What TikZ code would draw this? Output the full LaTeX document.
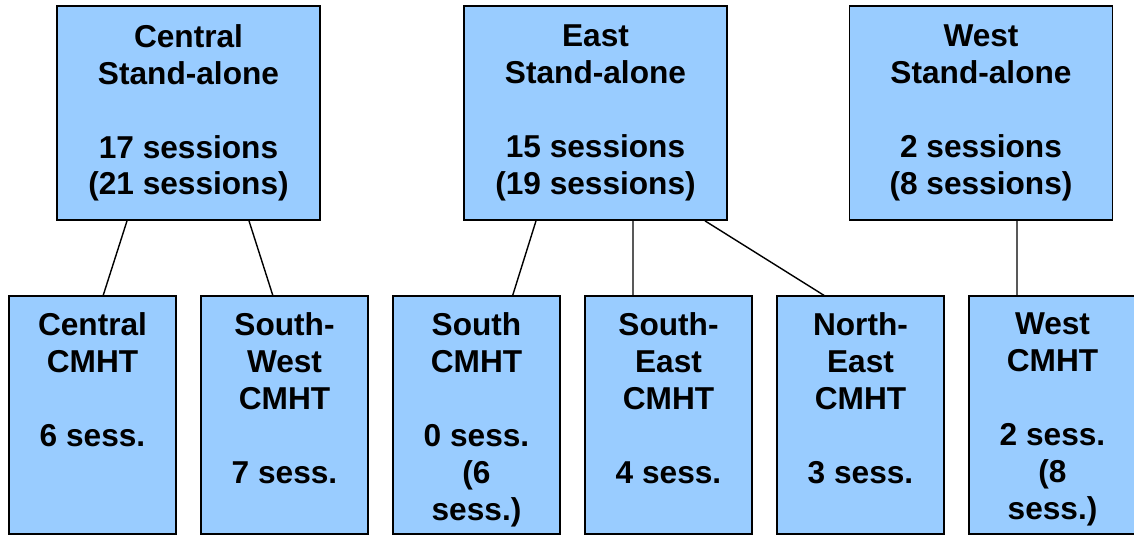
\documentclass[tikz,border=0pt]{standalone}
\usepackage{fontspec}
\setmainfont{Liberation Sans}
\usetikzlibrary{positioning}
\definecolor{boxblue}{HTML}{99CCFF}

\begin{document}
\begin{tikzpicture}[
    node distance=0.5cm,
    every node/.style={font=\fontsize{18}{21}\selectfont\bfseries},
    topbox/.style={draw=black, fill=boxblue, line width=1pt, minimum width=5.26cm, minimum height=4.28cm, align=center, inner sep=0pt},
    cmhtbox/.style={draw=black, fill=boxblue, line width=1pt, minimum width=3.34cm, minimum height=4.76cm, inner sep=0pt, outer sep=0pt},
    boxtext/.style={anchor=north, align=center, inner sep=0pt},
    link/.style={draw=black, line width=0.8pt}
]
    \useasboundingbox (0,0) rectangle (22.68,-10.72);

    % Stand-alone row
    \node[topbox] (central) at (3.77,-2.26) {Central\\Stand-alone\\[21pt]17 sessions\\(21 sessions)};
    \node[topbox] (east) at (11.91,-2.26) {East\\Stand-alone\\[21pt]15 sessions\\(19 sessions)};
    \node[topbox] (west) at (19.62,-2.26) {West\\Stand-alone\\[21pt]2 sessions\\(8 sessions)};

    % CMHT row
    \node[cmhtbox] (centralcmht) at (1.85,-8.3) {};
    \node[cmhtbox, right=of centralcmht] (swcmht) {};
    \node[cmhtbox, right=of swcmht] (southcmht) {};
    \node[cmhtbox, right=of southcmht] (secmht) {};
    \node[cmhtbox, right=of secmht] (necmht) {};
    \node[cmhtbox, right=of necmht] (westcmht) {};

    % CMHT texts, top aligned
    \node[boxtext] (centralcmhttext) at ([yshift=-0.33cm]centralcmht.north) {Central\\CMHT\\[21pt]6 sess.};
    \node[boxtext] (swcmhttext) at ([yshift=-0.33cm]swcmht.north) {South-\\West\\CMHT\\[21pt]7 sess.};
    \node[boxtext] (southcmhttext) at ([yshift=-0.33cm]southcmht.north) {South\\CMHT\\[21pt]0 sess.\\(6\\sess.)};
    \node[boxtext] (secmhttext) at ([yshift=-0.33cm]secmht.north) {South-\\East\\CMHT\\[21pt]4 sess.};
    \node[boxtext] (necmhttext) at ([yshift=-0.33cm]necmht.north) {North-\\East\\CMHT\\[21pt]3 sess.};
    \node[boxtext] (westcmhttext) at ([yshift=-0.33cm]westcmht.north) {West\\CMHT\\[21pt]2 sess.\\(8\\sess.)};

    % Links
    \draw[link] ([xshift=-1.23cm]central.south) -- ([xshift=0.21cm]centralcmht.north);
    \draw[link] ([xshift=1.21cm]central.south) -- ([xshift=-0.23cm]swcmht.north);
    \draw[link] ([xshift=-1.19cm]east.south) -- ([xshift=0.72cm]southcmht.north);
    \draw[link] ([xshift=0.75cm]east.south) -- ([xshift=-0.71cm]secmht.north);
    \draw[link] ([xshift=2.19cm]east.south) -- ([xshift=-0.71cm]necmht.north);
    \draw[link] ([xshift=0.72cm]west.south) -- ([xshift=-0.71cm]westcmht.north);
\end{tikzpicture}
\end{document}
